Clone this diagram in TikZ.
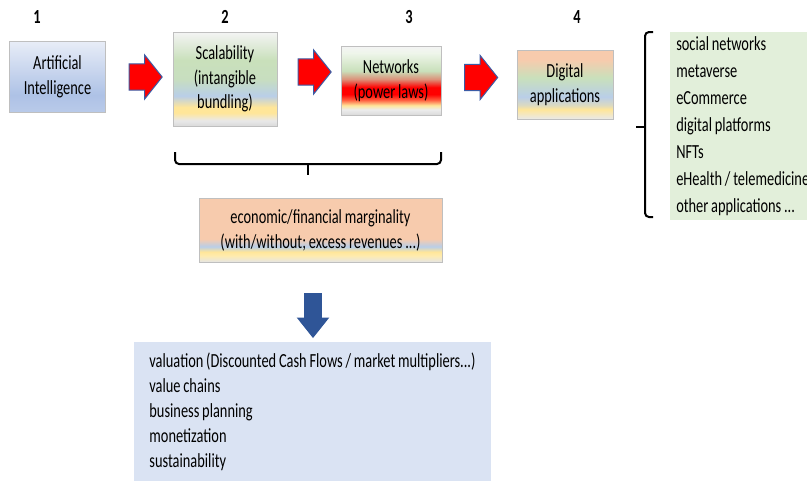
\documentclass[tikz,border=0pt]{standalone}
\usepackage{fontspec}
\setmainfont{Carlito}[FakeStretch=0.72,WordSpace=0.85]
\usepackage{xcolor}
\usetikzlibrary{shapes.arrows,positioning}

\definecolor{boxgray}{HTML}{BFBFBF}
\definecolor{arrowblue}{HTML}{3B5BA5}
\definecolor{downblue}{HTML}{2F5597}
\definecolor{listgreen}{HTML}{E2EFDA}
\definecolor{valblue}{HTML}{DAE3F3}
\definecolor{paletop}{HTML}{F4F4F4}
\definecolor{palegray}{HTML}{DADADA}
\definecolor{softgreen}{HTML}{C9E0BB}
\definecolor{softblue}{HTML}{B9CEE8}
\definecolor{softyellow}{HTML}{FFE699}
\definecolor{softorange}{HTML}{F7CBAD}
\definecolor{aitop}{HTML}{E8EDF7}
\definecolor{aimid}{HTML}{AEC2E6}
\definecolor{aibot}{HTML}{B9CAE9}

% vertical shadings: 25bp = bottom edge, 75bp = top edge
\pgfdeclareverticalshading{aishade}{100bp}{color(0bp)=(aibot); color(25bp)=(aibot);
  color(37bp)=(aimid); color(75bp)=(aitop); color(100bp)=(aitop)}
\pgfdeclareverticalshading{scalshade}{100bp}{color(0bp)=(palegray); color(25bp)=(palegray);
  color(28bp)=(palegray!60!white); color(32bp)=(softyellow); color(35bp)=(softyellow);
  color(41bp)=(softblue); color(50bp)=(softgreen!90!softblue); color(60bp)=(softgreen);
  color(75bp)=(paletop); color(100bp)=(paletop)}
\pgfdeclareverticalshading{netshade}{100bp}{color(0bp)=(palegray); color(25bp)=(palegray);
  color(29bp)=(palegray!50!white); color(32bp)=(softyellow); color(36bp)=(red!60!softyellow);
  color(40bp)=(red); color(45bp)=(red); color(51bp)=(red!35!softgreen);
  color(57bp)=(softgreen); color(70bp)=(softgreen!30!white); color(75bp)=(paletop); color(100bp)=(paletop)}
\pgfdeclareverticalshading{appshade}{100bp}{color(0bp)=(palegray!60!white); color(25bp)=(palegray!60!white);
  color(32bp)=(softyellow); color(35bp)=(softyellow!50!softblue); color(41bp)=(softblue);
  color(55bp)=(softgreen); color(68bp)=(softorange); color(75bp)=(softorange); color(100bp)=(softorange)}
\pgfdeclareverticalshading{margshade}{100bp}{color(0bp)=(palegray!70!white); color(25bp)=(palegray!70!white);
  color(30bp)=(softyellow!80!white); color(33bp)=(softyellow); color(37bp)=(softblue);
  color(43bp)=(softorange); color(75bp)=(softorange); color(100bp)=(softorange)}

\begin{document}
\begin{tikzpicture}[x=0.75pt,y=-0.75pt,
    stagebox/.style={draw=boxgray, line width=0.75pt, align=center, inner sep=0pt,
      font=\fontsize{15}{18.5}\selectfont},
    stagenum/.style={font=\fontsize{15}{18}\selectfont\bfseries},
    redarrow/.style={single arrow, draw=arrowblue, fill=red, line width=0.75pt,
      inner xsep=0pt, inner ysep=9.4pt, single arrow head extend=6.75pt,
      minimum height=24.75pt, single arrow tip angle=103},
    listbox/.style={align=left, inner xsep=4.5pt, inner ysep=0pt,
      font=\fontsize{15}{20.25}\selectfont},
    bracket/.style={line width=1.5pt, rounded corners=3pt}
  ]
  \useasboundingbox (0,0) rectangle (807,483);

  % stage numbers
  \node[stagenum] (n1) at (37,17) {1};
  \node[stagenum] (n2) at (225,17) {2};
  \node[stagenum] (n3) at (409,17) {3};
  \node[stagenum] (n4) at (577,17) {4};

  % stages
  \node[stagebox, shading=aishade, minimum width=72pt, minimum height=53.25pt]
    (ai) at (57.5,76.5) {Artificial\\Intelligence};
  \node[stagebox, shading=scalshade, minimum width=78pt, minimum height=70.5pt]
    (scal) at (225,79) {Scalability\\(intangible\\bundling)};
  \node[stagebox, shading=netshade, minimum width=75pt, minimum height=51.75pt]
    (net) at (391,80.5) {Networks\\(power laws)};
  \node[stagebox, shading=appshade, minimum width=72pt, minimum height=51.75pt]
    (app) at (565,84.5) {Digital\\applications};

  % block arrows
  \node[redarrow] (r1) at (140.5,77) {};
  \node[redarrow] (r2) at (309.5,72) {};
  \node[redarrow] (r3) at (476,77.5) {};

  % list of applications
  \coordinate (rt) at (653,32);
  \coordinate (rm) at (645,127);
  \coordinate (rb) at (653,217);
  \coordinate (rtip) at (636,127);
  \draw[bracket] (rt) -| (rm) |- (rb);
  \draw[line width=1.5pt] (rm) -- (rtip);
  \node[listbox, fill=listgreen, anchor=north west, minimum height=141pt]
    (apps) at (670,32) {social networks\\metaverse\\eCommerce\\digital platforms\\NFTs\\eHealth / telemedicine\\other applications ...};

  % brace under stages 2-3
  \coordinate (bl) at (175,152);
  \coordinate (bm) at (308,164);
  \coordinate (br) at (441,152);
  \coordinate (btip) at (308,175);
  \draw[bracket] (bl) |- (bm) -| (br);
  \draw[line width=1.5pt] (bm) -- (btip);

  \node[stagebox, shading=margshade, minimum width=182.25pt, minimum height=48pt,
    font=\fontsize{15}{18.75}\selectfont]
    (marg) at (320.5,230) {economic/financial marginality\\(with/without; excess revenues ...)};

  \node[single arrow, fill=downblue, rotate=-90, inner xsep=0pt, inner ysep=6.4pt,
    single arrow head extend=5.6pt, minimum height=33.75pt, single arrow tip angle=77]
    (down) at (313,310) {};

  \node[listbox, fill=valblue, minimum width=267.75pt, minimum height=104.25pt,
    font=\fontsize{15}{18.75}\selectfont]
    (val) at (312.5,411.5) {valuation (Discounted Cash Flows / market multipliers...)\\value chains\\business planning\\monetization\\sustainability};
\end{tikzpicture}
\end{document}
